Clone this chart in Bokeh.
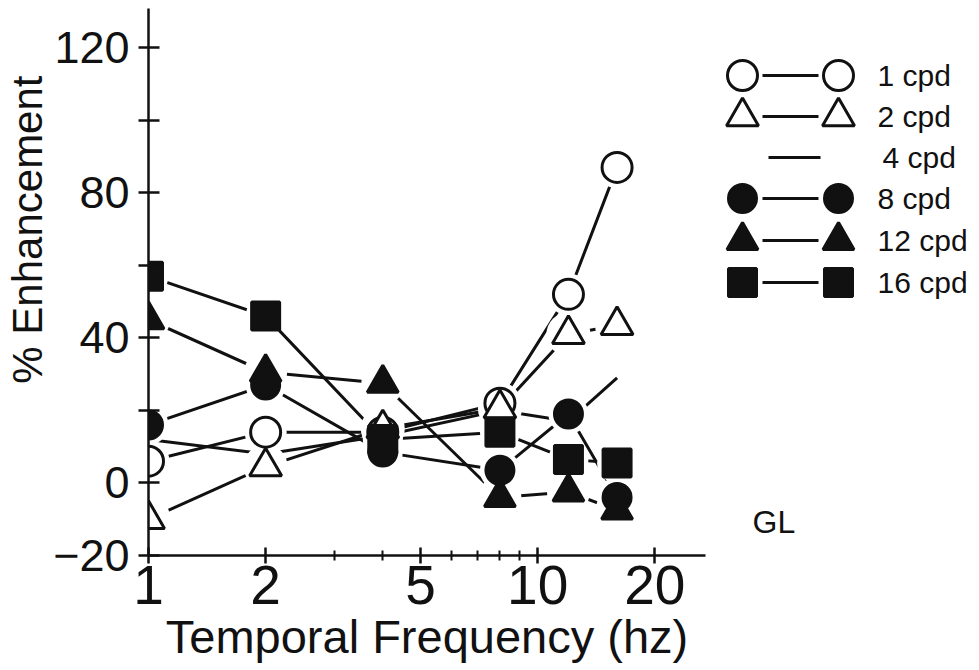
from bokeh.plotting import figure
from bokeh.models import Range1d, FixedTicker, Title
from bokeh.layouts import row
from bokeh.embed import file_html
from bokeh.resources import INLINE
from bokeh.core.properties import value

# temporal frequency (Hz) and % enhancement per spatial frequency
freq_hz = [1, 2, 4, 8, 12, 16]
cpd_1 = [6, 14, 14, 22, 52, 87]
cpd_2 = [-10, 4.5, 15, 20.5, 41, 43.5]
cpd_4 = [12, 8, 13, 20, 17, 29]
cpd_8 = [16, 27, 8.5, 3.5, 19, -4]
cpd_12 = [45, 30.5, 27.5, -4, -2.5, -7.5]
cpd_16 = [57, 46, 12, 14, 6.5, 5.5]

series_labels = ["1 cpd", "2 cpd", "4 cpd", "8 cpd", "12 cpd", "16 cpd"]
series_values = [cpd_1, cpd_2, cpd_4, cpd_8, cpd_12, cpd_16]

x_ticks = [1, 2, 5, 10, 20]
x_minor_ticks = [3, 4, 6, 7, 8, 9]
y_ticks = [-20, 0, 20, 40, 60, 80, 100, 120]
y_tick_labels = {-20: "\u221220", 0: "0", 20: "", 40: "40", 60: "", 80: "80", 100: "", 120: "120"}

FONT = "Liberation Sans"
INK = "#111111"

# marker style per series: (marker, fill, size); None = line only
styles = [
    ("circle", "white", 30),
    ("triangle", "white", 32),
    None,
    ("circle", INK, 28),
    ("triangle", INK, 31),
    ("square", INK, 28),
]

p = figure(width=720, height=670, x_axis_type="log",
           x_range=Range1d(1, 27), y_range=Range1d(-20, 130.8),
           output_backend="svg", toolbar_location=None,
           min_border_left=148, min_border_right=15,
           min_border_top=8, min_border_bottom=115)
p.outline_line_color = None
p.grid.visible = False
p.background_fill_color = "white"

# axes
p.xaxis.ticker = FixedTicker(ticks=x_ticks, minor_ticks=x_minor_ticks)
p.xaxis.major_label_overrides = {t: str(t) for t in x_ticks}
p.yaxis.ticker = FixedTicker(ticks=y_ticks, minor_ticks=[])
p.yaxis.major_label_overrides = y_tick_labels
p.xaxis.axis_label = "Temporal Frequency (hz)"
for ax in (p.xaxis, p.yaxis):
    ax.axis_line_width = 2.5
    ax.axis_line_color = INK
    ax.major_tick_line_width = 2.5
    ax.major_tick_line_color = INK
    ax.minor_tick_line_width = 2
    ax.minor_tick_line_color = INK
    ax.major_label_text_font = FONT
    ax.major_label_text_color = INK
    ax.axis_label_text_font = FONT
    ax.axis_label_text_font_style = "normal"
    ax.axis_label_text_color = INK
p.yaxis.major_tick_in = 11
p.yaxis.major_tick_out = 10
p.yaxis.major_label_standoff = 9
p.yaxis.major_label_text_font_size = "45px"
p.xaxis.major_tick_in = 8
p.xaxis.major_tick_out = 8
p.xaxis.minor_tick_in = 5
p.xaxis.minor_tick_out = 5
p.xaxis.major_label_standoff = 2
p.xaxis.major_label_text_font_size = "55px"
p.xaxis.axis_label_text_font_size = "47px"
p.xaxis.axis_label_standoff = 3

# y-axis title, set toward the upper part of the axis
p.add_layout(Title(text="% Enhancement", align="right", offset=67, standoff=0,
                   text_font=FONT, text_font_size="42px", text_font_style="normal",
                   text_color=INK), "left")

# connecting lines
for vals in series_values:
    p.line(freq_hz, vals, line_color=INK, line_width=3)

# white halos so the lines stop short of each marker
for vals, st in zip(series_values, styles):
    if st is None:
        continue
    p.scatter(freq_hz, vals, marker="circle", size=st[2] + 12,
              fill_color="white", line_color=None)

# markers
for vals, st in zip(series_values, styles):
    if st is None:
        continue
    marker, fill, size = st
    p.scatter(freq_hz, vals, marker=marker, size=size, fill_color=fill,
              line_color=INK, line_width=3)

# key panel at the right; its frame lines up with the plot frame (page y 8..555)
leg = figure(width=259, height=670, x_range=Range1d(720, 979), y_range=Range1d(555, 8),
             output_backend="svg", toolbar_location=None,
             x_axis_location=None, y_axis_location=None, min_border=0)
leg.outline_line_color = None
leg.grid.visible = False

row_y = [75, 116, 157, 198, 240, 282]
for lbl, st, yy in zip(series_labels, styles, row_y):
    if st is None:
        leg.segment(x0=[768], y0=[yy], x1=[820], y1=[yy], line_color=INK, line_width=3)
        tx = 882
    else:
        marker, fill, size = st
        leg.segment(x0=[762], y0=[yy], x1=[818], y1=[yy], line_color=INK, line_width=3)
        leg.scatter([742, 838], [yy, yy], marker=marker, size=size,
                    fill_color=fill, line_color=INK, line_width=3)
        tx = 877
    leg.text(x=[tx], y=[yy], text=[lbl], text_font=value(FONT), text_font_size="30px",
             text_baseline="middle", text_align="left", text_color=INK)

leg.text(x=[752], y=[521], text=["GL"], text_font=value(FONT), text_font_size="32px",
         text_baseline="middle", text_align="left", text_color=INK)

layout = row(p, leg)
open("out.html", "w").write(file_html(layout, INLINE))
